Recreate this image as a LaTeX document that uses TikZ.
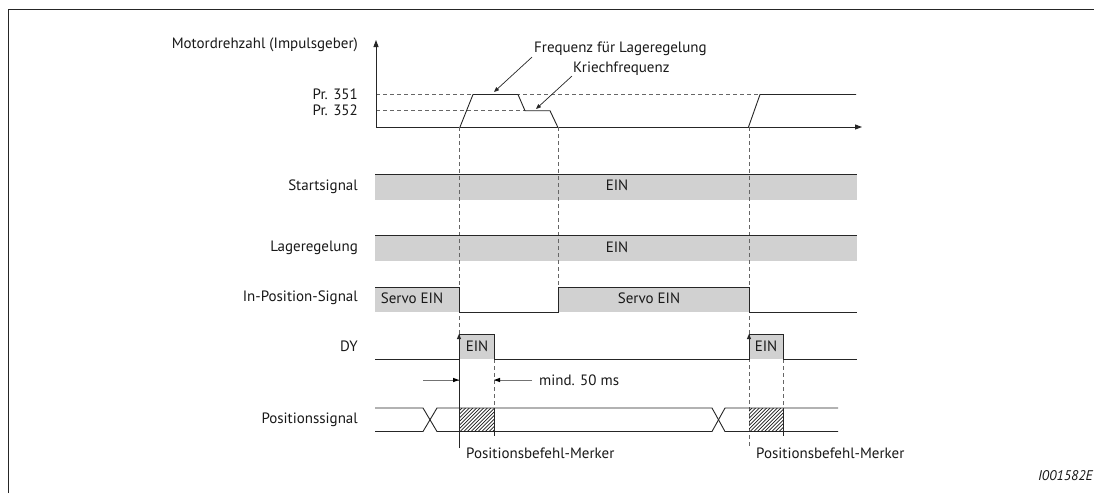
\documentclass[tikz,border=0pt]{standalone}
\usepackage{fontspec}
\setmainfont{PT Sans}
\usetikzlibrary{arrows.meta}
\begin{document}
\begin{tikzpicture}[x=1pt,y=-1pt,
  sig/.style={draw=black!85, line width=0.9pt},
  dsh/.style={draw=black!60, line width=0.8pt, dash pattern=on 4pt off 3pt},
  band/.style={fill=black!18},
  lbl/.style={font=\fontsize{15}{17}\selectfont, text=black!90, inner sep=0pt},
  tip/.style={-{Triangle[length=7pt,width=5pt]}},
  smalltip/.style={-{Triangle[length=5pt,width=4pt]}},
  dimline/.style={draw=black!55, line width=0.9pt}]
\clip (0,0) rectangle (1094,493);
\fill[white] (0,0) rectangle (1094,493);
% frame
\draw[sig] (8,493) -- (8,9) -- (1094,9);
% ---- bands (backgrounds first)
\fill[band] (375,174) rectangle (857,200);
\fill[band] (375,235) rectangle (857,261);
\fill[band] (375,287) rectangle (459,312);
\fill[band] (558,287) rectangle (749,312);
\fill[band] (459,334) rectangle (494,359);
\fill[band] (749,334) rectangle (783,359);
% ---- speed axis
\coordinate (O) at (376,127);
\coordinate (ytop) at (376,40);
\coordinate (xend) at (862,127);
\draw[dsh] (376,94.5) -- (760,94.5);
\draw[dsh] (376,110.7) -- (525,110.7);
\draw[sig,tip] (O) -- (ytop);
\draw[sig,tip] (O) -- (xend);
\draw[sig] (460,127) -- (473,94.5) -- (518,94.5) -- (525,110.7) -- (550,110.7) -- (557.7,127);
\draw[sig] (748.5,127) -- (760,94.5) -- (856,94.5);
% ---- marker dashed lines
\draw[dsh] (459,127) -- (459,334);
\draw[dsh] (558,127) -- (558,287);
\draw[dsh] (749,127) -- (749,448);
\draw[dsh] (494,359) -- (494,408);
\draw[dsh] (783,359) -- (783,408);
% ---- signal lines
\draw[sig] (375,174) -- (857,174);
\draw[sig] (375,235) -- (857,235);
\draw[sig] (375,287) -- (459,287) -- (459,312) -- (558,312) -- (558,287) -- (749,287) -- (749,312) -- (857,312);
\draw[sig] (375,359) -- (459,359) -- (459,334) -- (494,334) -- (494,359) -- (749,359) -- (749,334) -- (783,334) -- (783,359) -- (857,359);
% Positionssignal bus
\draw[sig] (375,408) -- (423,408) -- (437,431.5) -- (712,431.5) -- (725,408) -- (838,408);
\draw[sig] (375,431.5) -- (423,431.5) -- (437,408) -- (712,408) -- (725,431.5) -- (838,431.5);
% hatched boxes
\begin{scope}
\clip (459,408) rectangle (494,431.5);
\foreach \i in {0,...,17} \draw[black!90, line width=0.7pt] (435+\i*3.6,431.5) -- ++(23.5,-23.5);
\end{scope}
\begin{scope}
\clip (749,408) rectangle (783,431.5);
\foreach \i in {0,...,17} \draw[black!90, line width=0.7pt] (725+\i*3.6,431.5) -- ++(23.5,-23.5);
\end{scope}
\draw[sig] (494,408) -- (494,436);
\draw[sig] (783,408) -- (783,436);
% marker arrows
\draw[sig,smalltip] (459,448) -- (459,334);
\draw[sig,smalltip] (749,359) -- (749,334);
% dimension
\coordinate (dimL) at (423,380);
\coordinate (dimR) at (532,380);
\draw[dimline] (dimL) -- (459,380);
\draw[dimline] (dimR) -- (494,380);
\fill[black] (459,380) -- (453,377.8) -- (453,382.2) -- cycle;
\fill[black] (494,380) -- (500,377.8) -- (500,382.2) -- cycle;
% ---- labels
\node[lbl,anchor=east] (lmot) at (358,45) {Motordrehzahl (Impulsgeber)};
\node[lbl,anchor=east] (l351) at (358,94.5) {Pr. 351};
\node[lbl,anchor=east] (l352) at (358,110.7) {Pr. 352};
\node[lbl,anchor=east] (lstart) at (358,187) {Startsignal};
\node[lbl,anchor=east] (llage) at (358,247.5) {Lageregelung};
\node[lbl,anchor=east] (linpos) at (358,298) {In-Position-Signal};
\node[lbl,anchor=east] (ldy) at (358,346) {DY};
\node[lbl,anchor=east] (lpos) at (358,420) {Positionssignal};
\node[lbl] (ein1) at (617,185) {EIN};
\node[lbl] (ein2) at (617,247.5) {EIN};
\node[lbl] (servo1) at (412,298) {Servo EIN};
\node[lbl] (servo2) at (649,298) {Servo EIN};
\node[lbl] (dyein1) at (477,346) {EIN};
\node[lbl] (dyein2) at (766,346) {EIN};
\node[lbl,anchor=west] (mind) at (539,380) {mind. 50 ms};
\node[lbl,anchor=west] (pbm1) at (466,453) {Positionsbefehl-Merker};
\node[lbl,anchor=west] (pbm2) at (756,453) {Positionsbefehl-Merker};
\node[lbl,anchor=west] (freq) at (534,49) {Frequenz für Lageregelung};
\node[lbl,anchor=west] (kriech) at (573,69) {Kriechfrequenz};
\node[lbl,anchor=east,font=\fontsize{14}{16}\selectfont\itshape] (code) at (1093,476) {I001582E};
% annotation arrows
\coordinate (fq) at (494,92);
\coordinate (kq) at (536,109);
\draw[black!85,line width=0.7pt,smalltip] (freq.south west) ++(-2,1) -- (fq);
\draw[black!85,line width=0.7pt,smalltip] (kriech.south west) ++(-1,0) -- (kq);
\end{tikzpicture}
\end{document}
